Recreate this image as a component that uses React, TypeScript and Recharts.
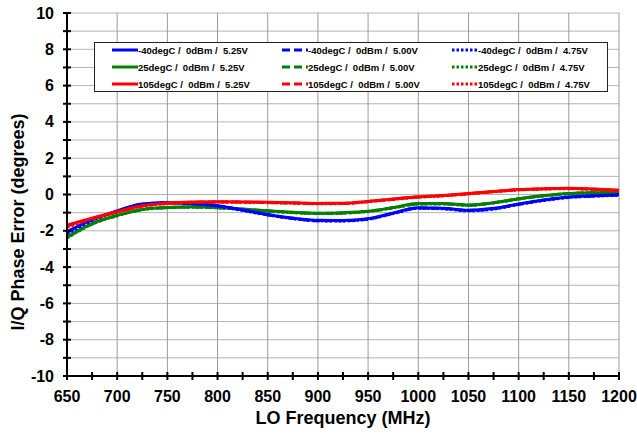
import {
  LineChart,
  Line,
  XAxis,
  YAxis,
  CartesianGrid,
  ReferenceLine,
  Legend,
} from 'recharts';

const freqs = [
  650, 675, 700, 725, 750, 775, 800, 825, 850, 875, 900, 925, 950, 975, 1000,
  1025, 1050, 1075, 1100, 1125, 1150, 1175, 1200,
];

// -40degC
const cold525 = [
  -2.05, -1.38, -0.91, -0.52, -0.45, -0.5, -0.62, -0.85, -1.1, -1.3, -1.42,
  -1.43, -1.33, -1.02, -0.73, -0.76, -0.87, -0.76, -0.52, -0.3, -0.14, -0.07, -0.02,
];
const cold500 = [
  -2.1, -1.4, -0.92, -0.53, -0.46, -0.51, -0.63, -0.86, -1.12, -1.32, -1.44,
  -1.44, -1.35, -1.04, -0.75, -0.77, -0.88, -0.78, -0.54, -0.31, -0.15, -0.08, -0.03,
];
const cold475 = [
  -2.18, -1.44, -0.94, -0.54, -0.47, -0.52, -0.64, -0.88, -1.13, -1.33, -1.45,
  -1.46, -1.36, -1.05, -0.76, -0.79, -0.9, -0.8, -0.55, -0.33, -0.16, -0.09, -0.04,
];

// 25degC
const room525 = [
  -2.35, -1.6, -1.15, -0.82, -0.71, -0.68, -0.72, -0.8, -0.9, -0.98, -1.03,
  -1.0, -0.92, -0.72, -0.5, -0.5, -0.58, -0.45, -0.23, -0.06, 0.06, 0.1, 0.1,
];
const room500 = [
  -2.37, -1.62, -1.16, -0.83, -0.72, -0.69, -0.73, -0.81, -0.91, -0.99, -1.04,
  -1.02, -0.93, -0.73, -0.52, -0.51, -0.59, -0.46, -0.24, -0.07, 0.05, 0.09, 0.09,
];
const room475 = [
  -2.4, -1.63, -1.17, -0.84, -0.73, -0.7, -0.74, -0.82, -0.92, -1.0, -1.05,
  -1.03, -0.94, -0.74, -0.53, -0.52, -0.6, -0.47, -0.25, -0.08, 0.04, 0.08, 0.08,
];

// 105degC
const hot525 = [
  -1.68, -1.3, -0.95, -0.62, -0.48, -0.42, -0.4, -0.41, -0.43, -0.46, -0.49,
  -0.48, -0.38, -0.25, -0.13, -0.05, 0.05, 0.17, 0.27, 0.32, 0.34, 0.3, 0.24,
];
const hot500 = [
  -1.74, -1.32, -0.96, -0.63, -0.49, -0.43, -0.41, -0.42, -0.44, -0.47, -0.5,
  -0.49, -0.39, -0.26, -0.14, -0.06, 0.04, 0.16, 0.26, 0.31, 0.33, 0.29, 0.23,
];
const hot475 = [
  -1.8, -1.35, -0.97, -0.64, -0.5, -0.44, -0.42, -0.43, -0.45, -0.48, -0.51,
  -0.5, -0.4, -0.27, -0.15, -0.07, 0.03, 0.15, 0.25, 0.3, 0.32, 0.28, 0.22,
];

const seriesNames = [
  '-40degC /  0dBm /  5.25V',
  '-40degC /  0dBm /  5.00V',
  '-40degC /  0dBm /  4.75V',
  '25degC /  0dBm /  5.25V',
  '25degC /  0dBm /  5.00V',
  '25degC /  0dBm /  4.75V',
  '105degC /  0dBm /  5.25V',
  '105degC /  0dBm /  5.00V',
  '105degC /  0dBm /  4.75V',
];

const yTicks = [-10, -9, -8, -7, -6, -5, -4, -3, -2, -1, 0, 1, 2, 3, 4, 5, 6, 7, 8, 9, 10];
const xTicks = [
  650, 675, 700, 725, 750, 775, 800, 825, 850, 875, 900, 925, 950, 975, 1000,
  1025, 1050, 1075, 1100, 1125, 1150, 1175, 1200,
];
const xGrid = [700, 750, 800, 850, 900, 950, 1000, 1050, 1100, 1150, 1200];

const FONT = '"Liberation Sans", Arial, sans-serif';
const BLUE = '#0000ff';
const GREEN = '#008000';
const RED = '#ff0000';
const SOLID = undefined;
const DASH = '8 4';
const DOT = '2.5 2';

const series = [
  { key: 's0', values: cold525, color: BLUE, dash: SOLID },
  { key: 's1', values: cold500, color: BLUE, dash: DASH },
  { key: 's2', values: cold475, color: BLUE, dash: DOT },
  { key: 's3', values: room525, color: GREEN, dash: SOLID },
  { key: 's4', values: room500, color: GREEN, dash: DASH },
  { key: 's5', values: room475, color: GREEN, dash: DOT },
  { key: 's6', values: hot525, color: RED, dash: SOLID },
  { key: 's7', values: hot500, color: RED, dash: DASH },
  { key: 's8', values: hot475, color: RED, dash: DOT },
].map((s, i) => ({ ...s, name: seriesNames[i] }));

const data = freqs.map((f, i) => {
  const row: Record<string, number> = { f };
  series.forEach((s) => {
    row[s.key] = s.values[i];
  });
  return row;
});

// draw green first so blue and red sit on top like the original
const drawOrder = [3, 4, 5, 0, 1, 2, 6, 7, 8];

function YTick(props: any) {
  const { y, payload } = props;
  const v = payload.value;
  return (
    <g>
      <line x1={63} x2={71} y1={y} y2={y} stroke="#000" strokeWidth={2} />
      {v % 2 === 0 && (
        <text
          x={54}
          y={y + 5.5}
          textAnchor="end"
          fontFamily={FONT}
          fontWeight="bold"
          fontSize={16}
          fill="#000"
        >
          {v}
        </text>
      )}
    </g>
  );
}

function XTick(props: any) {
  const { x, payload } = props;
  const v = payload.value;
  return (
    <g>
      <line x1={x} x2={x} y1={372} y2={380} stroke="#000" strokeWidth={2} />
      {v % 50 === 0 && (
        <text
          x={x}
          y={402}
          textAnchor="middle"
          fontFamily={FONT}
          fontWeight="bold"
          fontSize={16}
          fill="#000"
        >
          {v}
        </text>
      )}
    </g>
  );
}

function LegendBox() {
  return (
    <div
      style={{
        width: 512,
        height: 48,
        border: '1px solid #222',
        background: '#fff',
        display: 'grid',
        gridTemplateColumns: '170px 170px 172px',
        gridTemplateRows: '17px 17px 17px',
        paddingTop: 0,
        alignContent: 'center',
        fontFamily: FONT,
        fontWeight: 'bold',
        fontSize: 9.5,
        color: '#000',
      }}
    >
      {series.map((s) => (
        <div
          key={s.key}
          style={{ display: 'flex', alignItems: 'center', paddingLeft: 17, whiteSpace: 'pre' }}
        >
          <svg width={26} height={6} style={{ display: 'block' }}>
            <line
              x1={0}
              x2={26}
              y1={3}
              y2={3}
              stroke={s.color}
              strokeWidth={3}
              strokeDasharray={s.dash}
            />
          </svg>
          <span>{s.name}</span>
        </div>
      ))}
    </div>
  );
}

export default function App() {
  return (
    <div style={{ position: 'absolute', left: 0, top: 0, width: 637, height: 435, background: '#fff' }}>
      <LineChart
        width={637}
        height={435}
        data={data}
        margin={{ top: 13, right: 18, left: 0, bottom: 0 }}
      >
        <CartesianGrid vertical={false} stroke="#b4b4b4" strokeWidth={1} />
        {xGrid.map((v) => (
          <ReferenceLine key={v} x={v} stroke="#9a9a9a" strokeWidth={1} />
        ))}
        <XAxis
          dataKey="f"
          type="number"
          domain={[650, 1200]}
          ticks={xTicks}
          interval={0}
          height={59}
          axisLine={{ stroke: '#000', strokeWidth: 2 }}
          tickLine={false}
          tick={<XTick />}
          label={{
            content: () => (
              <text
                x={343}
                y={424}
                textAnchor="middle"
                fontFamily={FONT}
                fontWeight="bold"
                fontSize={18}
                fill="#000"
              >
                LO Frequency (MHz)
              </text>
            ),
          }}
        />
        <YAxis
          type="number"
          domain={[-10, 10]}
          ticks={yTicks}
          interval={0}
          width={67}
          axisLine={{ stroke: '#000', strokeWidth: 2 }}
          tickLine={false}
          tick={<YTick />}
          label={{
            content: () => (
              <text
                transform="translate(24,222) rotate(-90)"
                textAnchor="middle"
                fontFamily={FONT}
                fontWeight="bold"
                fontSize={18}
                fill="#000"
              >
                I/Q Phase Error (degrees)
              </text>
            ),
          }}
        />
        <Legend
          layout="horizontal"
          verticalAlign="middle"
          align="center"
          content={<LegendBox />}
          wrapperStyle={{ left: 94, top: 42, width: 514, height: 50 }}
        />
        {drawOrder.map((i) => {
          const s = series[i];
          return (
            <Line
              key={s.key}
              type="monotone"
              dataKey={s.key}
              name={s.name}
              stroke={s.color}
              strokeWidth={3}
              strokeDasharray={s.dash}
              dot={false}
              activeDot={false}
              isAnimationActive={false}
            />
          );
        })}
      </LineChart>
    </div>
  );
}
